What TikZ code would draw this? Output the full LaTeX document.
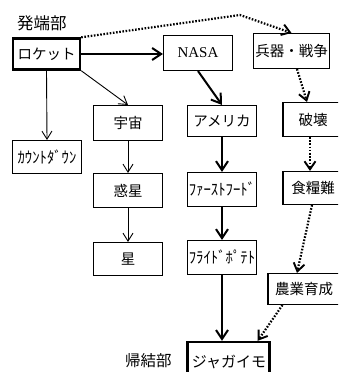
\documentclass[tikz,border=0pt]{standalone}
\usepackage{fontspec}
\newfontfamily\jp{Noto Sans CJK JP}
\newfontfamily\jpnarrow[FakeStretch=0.92]{Noto Sans CJK JP}
\newfontfamily\nasafont{Liberation Serif}
\usetikzlibrary{arrows.meta}
\begin{document}
\begin{tikzpicture}[x=1pt,y=-1pt,
  box/.style={draw, line width=1.1pt, inner sep=0pt, font=\jp\fontsize{14.5}{14.5}\selectfont},
  boldbox/.style={box, line width=2.4pt},
  halfw/.style={font=\jpnarrow\fontsize{16}{16}\selectfont},
  lbl/.style={inner sep=0pt, anchor=west, font=\jp\fontsize{16.5}{16.5}\selectfont},
  thinarrow/.style={line width=0.9pt, -{Straight Barb[length=8pt,width=10pt,line width=0.9pt]}},
  thickarrow/.style={line width=2pt, -{Straight Barb[length=9pt,width=12pt,line width=2pt]}},
  dotarrow/.style={line width=2.2pt, dash pattern=on 1.6pt off 1.6pt, -{Straight Barb[length=8pt,width=11pt,line width=1.9pt]}}
]
\useasboundingbox (0,0) rectangle (338,372);
\clip (0,0) rectangle (338,372);

% labels
\node[lbl] (start) at (17,23) {発端部};
\node[lbl, font=\jp\fontsize{15.5}{15.5}\selectfont] (end) at (125,361) {帰結部};

% boxes
\node[boldbox, minimum width=67pt, minimum height=31pt] (rocket) at (46.5,54) {ロケット};
\node[box, minimum width=69pt, minimum height=35pt, font=\nasafont\fontsize{15}{15}\selectfont] (nasa) at (198,53) {NASA};
\node[box, minimum width=76pt, minimum height=35pt] (heiki) at (291.5,51) {兵器・戦争};

\node[box, halfw, minimum width=69pt, minimum height=33pt] (count) at (47,157) {ｶｳﾝﾄﾀﾞｳﾝ};
\node[box, minimum width=69pt, minimum height=35pt] (uchu) at (128,123) {宇宙};
\node[box, minimum width=69pt, minimum height=34pt] (wakusei) at (128,190.5) {惑星};
\node[box, minimum width=69pt, minimum height=33pt] (hoshi) at (128,259) {星};

\node[box, minimum width=69pt, minimum height=31pt] (america) at (222,121) {アメリカ};
\node[box, halfw, minimum width=69pt, minimum height=34pt] (fast) at (222,189.5) {ﾌｧｰｽﾄﾌｰﾄﾞ};
\node[box, halfw, minimum width=69pt, minimum height=34pt] (fried) at (222,257.5) {ﾌﾗｲﾄﾞﾎﾟﾃﾄ};

\node[box, minimum width=60pt, minimum height=34pt] (hakai) at (313,119.5) {破壊};
\node[box, minimum width=60pt, minimum height=33pt] (shoku) at (313,188) {食糧難};
\node[box, minimum width=72pt, minimum height=31pt] (nogyo) at (304,289) {農業育成};

\node[boldbox, minimum width=82pt, minimum height=40pt] (jaga) at (228.5,362) {};
\node[inner sep=0pt, font=\jp\fontsize{15}{15}\selectfont] (jagatext) at (229,362) {ジャガイモ};

% connectors
\draw[thickarrow] (rocket.east) -- (rocket.east -| nasa.west);
\draw[thinarrow] (rocket.south east) -- (uchu.north);
\draw[thinarrow] (rocket.south) -- (count.north);
\coordinate (peak) at (240,15);
\draw[dotarrow] (rocket.north east) -- (peak) -- (heiki.north);

\draw[thickarrow] (nasa.south) -- (america.north);
\draw[thickarrow] (america.south) -- (fast.north);
\draw[thickarrow] (fast.south) -- (fried.north);
\draw[thickarrow] (fried.south) -- (jaga.north -| fried.south);

\draw[thinarrow] (uchu.south) -- (wakusei.north);
\draw[thinarrow] (wakusei.south) -- (hoshi.north);

\draw[dotarrow] ([xshift=5.5pt]heiki.south) -- ([xshift=-6pt]hakai.north);
\draw[dotarrow] ([xshift=-3pt]hakai.south) -- ([xshift=-3pt]shoku.north);
\draw[dotarrow] ([xshift=-1pt]shoku.south) -- ([xshift=-7pt]nogyo.north);
\draw[dotarrow] ([xshift=15pt]nogyo.south west) -- ([xshift=-13pt]jaga.north east);
\end{tikzpicture}
\end{document}
